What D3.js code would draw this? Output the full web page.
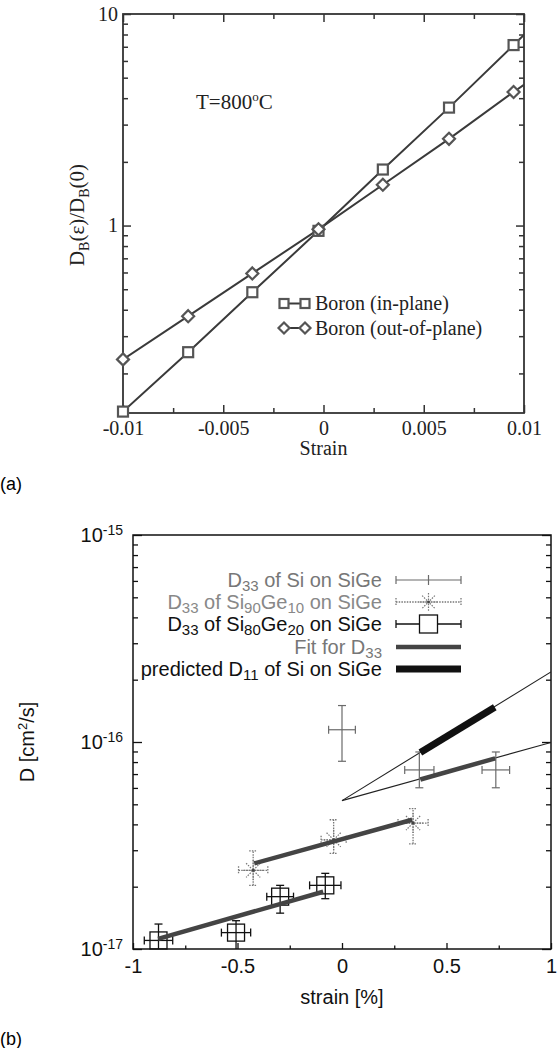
<!DOCTYPE html>
<html><head><meta charset="utf-8">
<script src="https://cdn.jsdelivr.net/npm/d3@7"></script>
<style>body{margin:0;background:#fff}svg{display:block}</style>
</head><body>
<svg id="c" width="558" height="1048"></svg>
<script>
// ================= DATA: panel (a) =================
const strainA = [-0.0100, -0.00675, -0.00355, -0.00025, 0.00296, 0.00626, 0.00948, 0.0128];
const boronInPlane = [0.132, 0.252, 0.484, 0.944, 1.84, 3.61, 7.13, 14.4];
const boronOutPlane = [0.233, 0.373, 0.594, 0.960, 1.56, 2.57, 4.28, 7.1];
const xTicksA = [-0.01, -0.005, 0, 0.005, 0.01];
const xTickLabelsA = ["-0.01", "-0.005", "0", "0.005", "0.01"];
const xMinorA = [-0.0075, -0.0025, 0.0025, 0.0075];
const yTicksA = [1, 10];
const yTickLabelsA = ["1", "10"];
const yMinorA = [0.2, 0.3, 0.4, 0.5, 0.6, 0.7, 0.8, 0.9, 2, 3, 4, 5, 6, 7, 8, 9];
const legendA = ["Boron (in-plane)", "Boron (out-of-plane)"];

// ================= DATA: panel (b) =================
const strainSi = [0.000, 0.370, 0.736];
const dSi = [1.146e-16, 7.33e-17, 7.33e-17];
const dSiLow = [8.07e-17, 6.01e-17, 6.01e-17];
const dSiHigh = [1.50e-16, 8.95e-17, 8.95e-17];
const strainErrSi = [0.064, 0.070, 0.066];

const strainSi90 = [-0.425, -0.040, 0.340];
const dSi90 = [2.40e-17, 3.37e-17, 4.06e-17];
const dSi90Low = [2.03e-17, 2.90e-17, 3.22e-17];
const dSi90High = [2.98e-17, 4.21e-17, 4.77e-17];
const strainErrSi90 = [0.070, 0.060, 0.072];

const strainSi80 = [-0.878, -0.507, -0.296, -0.080];
const dSi80 = [1.10e-17, 1.20e-17, 1.79e-17, 2.03e-17];
const dSi80Low = [9.0e-18, 9.5e-18, 1.49e-17, 1.75e-17];
const dSi80High = [1.32e-17, 1.37e-17, 2.03e-17, 2.32e-17];
const strainErrSi80 = [0.068, 0.070, 0.064, 0.075];

const fitStrainSi80 = [-0.88, -0.09];
const fitDSi80 = [1.12e-17, 1.89e-17];
const fitStrainSi90 = [-0.42, 0.336];
const fitDSi90 = [2.59e-17, 4.21e-17];
const fitStrainSi = [0.375, 0.733];
const fitDSi = [6.59e-17, 8.34e-17];
const predStrainD11 = [0.375, 0.731];
const predD11 = [8.89e-17, 1.47e-16];
const extrapStrain = [0, 1];
const extrapD11 = [5.21e-17, 2.18e-16];
const extrapD33 = [5.21e-17, 9.95e-17];

const xTicksB = [-1, -0.5, 0, 0.5, 1];
const xTickLabelsB = ["-1", "-0.5", "0", "0.5", "1"];
const xMinorB = [-0.75, -0.25, 0.25, 0.75];
const yTicksB = [1e-17, 1e-16, 1e-15];
const yTickExpB = ["-17", "-16", "-15"];
const yMinorB = [2e-17, 3e-17, 4e-17, 5e-17, 6e-17, 7e-17, 8e-17, 9e-17, 2e-16, 3e-16, 4e-16, 5e-16, 6e-16, 7e-16, 8e-16, 9e-16];

// ================= DRAWING =================
const SERIF = "'Liberation Serif','Times New Roman',serif";
const SANS = "'Liberation Sans',Arial,Helvetica,sans-serif";
const svg = d3.select("#c");

function tickAxis(g, axisFn, scale, values, size, labels, pad) {
  const ax = axisFn(scale).tickValues(values).tickSizeInner(-size).tickSizeOuter(0)
    .tickPadding(pad || 0).tickFormat((d, i) => labels ? labels[i] : "");
  g.call(ax);
  g.select(".domain").remove();
  return g;
}

// ---------- panel (a) ----------
const A = {l: 123, r: 524, t: 14, b: 413};
const xA = d3.scaleLinear().domain([-0.01, 0.01]).range([A.l, A.r]);
const yA = d3.scaleLog().domain([0.13, 10]).range([A.b, A.t]);
const gA = svg.append("g");
const axCol = "#333";

svg.append("defs").append("clipPath").attr("id", "clipA")
  .append("rect").attr("x", A.l).attr("y", A.t).attr("width", A.r - A.l).attr("height", A.b - A.t);

function axesA() {
  const bx = gA.append("g").attr("transform", `translate(0,${A.b})`);
  tickAxis(bx, d3.axisBottom, xA, xTicksA, 8, xTickLabelsA, 7.5);
  const bxm = gA.append("g").attr("transform", `translate(0,${A.b})`);
  tickAxis(bxm, d3.axisBottom, xA, xMinorA, 5);
  const tx = gA.append("g").attr("transform", `translate(0,${A.t})`);
  tickAxis(tx, d3.axisTop, xA, xTicksA, 8);
  const txm = gA.append("g").attr("transform", `translate(0,${A.t})`);
  tickAxis(txm, d3.axisTop, xA, xMinorA, 5);
  const ly = gA.append("g").attr("transform", `translate(${A.l},0)`);
  tickAxis(ly, d3.axisLeft, yA, yTicksA, 8, yTickLabelsA, 5);
  const lym = gA.append("g").attr("transform", `translate(${A.l},0)`);
  tickAxis(lym, d3.axisLeft, yA, yMinorA, 5);
  const ry = gA.append("g").attr("transform", `translate(${A.r},0)`);
  tickAxis(ry, d3.axisRight, yA, yTicksA, 8);
  const rym = gA.append("g").attr("transform", `translate(${A.r},0)`);
  tickAxis(rym, d3.axisRight, yA, yMinorA, 5);
  gA.selectAll(".tick line").attr("stroke", axCol).attr("stroke-width", 1.5);
  gA.selectAll(".tick text").attr("font-family", SERIF).attr("font-size", 20).attr("fill", "#222");
  gA.append("rect").attr("x", A.l).attr("y", A.t).attr("width", A.r - A.l).attr("height", A.b - A.t)
    .attr("fill", "none").attr("stroke", axCol).attr("stroke-width", 1.8);
}
axesA();

const lineA = d3.line().x(d => xA(d[0])).y(d => yA(d[1]));
const ptsIn = strainA.map((s, i) => [s, boronInPlane[i]]);
const ptsOut = strainA.map((s, i) => [s, boronOutPlane[i]]);
const lineCol = "#3a3a3a", markCol = "#555";
[ptsIn, ptsOut].forEach(p => {
  gA.append("path").attr("d", lineA(p)).attr("fill", "none").attr("stroke", lineCol)
    .attr("stroke-width", 2).attr("clip-path", "url(#clipA)");
});
function square(g, x, y, s) {
  g.append("rect").attr("x", x - s / 2).attr("y", y - s / 2).attr("width", s).attr("height", s)
    .attr("fill", "#fff").attr("stroke", markCol).attr("stroke-width", 2.2);
}
function diamond(g, x, y, s) {
  g.append("path").attr("d", `M${x},${y - s / 2}L${x + s / 2},${y}L${x},${y + s / 2}L${x - s / 2},${y}Z`)
    .attr("fill", "#fff").attr("stroke", markCol).attr("stroke-width", 2.2);
}
ptsIn.filter(d => d[0] <= 0.01).forEach(d => square(gA, xA(d[0]), yA(d[1]), 10));
ptsOut.filter(d => d[0] <= 0.01).forEach(d => diamond(gA, xA(d[0]), yA(d[1]), 12));

// T label
const tl = gA.append("text").attr("x", 196).attr("y", 109).attr("font-family", SERIF).attr("font-size", 21).attr("fill", "#222");
tl.append("tspan").text("T=800");
tl.append("tspan").attr("dy", -8).attr("font-size", 13).text("o");
tl.append("tspan").attr("dy", 8).text("C");

// legend (a)
const legYA = [303.5, 328];
legendA.forEach((t, i) => {
  const y = legYA[i];
  gA.append("line").attr("x1", 284).attr("x2", 305).attr("y1", y).attr("y2", y).attr("stroke", lineCol).attr("stroke-width", 2);
  if (i === 0) { square(gA, 284, y, 9); square(gA, 305, y, 9); }
  else { diamond(gA, 284, y, 11); diamond(gA, 305, y, 11); }
  gA.append("text").attr("x", 315).attr("y", y + 6.5).attr("font-family", SERIF).attr("font-size", 20).attr("fill", "#222").text(t);
});

// axis titles (a)
gA.append("text").attr("x", (A.l + A.r) / 2).attr("y", 455).attr("text-anchor", "middle")
  .attr("font-family", SERIF).attr("font-size", 20).attr("fill", "#222").text("Strain");
const yl = gA.append("text").attr("transform", "translate(84,215) rotate(-90)").attr("text-anchor", "middle")
  .attr("font-family", SERIF).attr("font-size", 21).attr("fill", "#222");
yl.append("tspan").text("D");
yl.append("tspan").attr("dy", 5).attr("font-size", 14).text("B");
yl.append("tspan").attr("dy", -5).text("(ε)/D");
yl.append("tspan").attr("dy", 5).attr("font-size", 14).text("B");
yl.append("tspan").attr("dy", -5).text("(0)");

svg.append("text").attr("x", 0).attr("y", 490).attr("font-family", SANS).attr("font-size", 18).text("(a)");

// ---------- panel (b) ----------
const B = {l: 133, r: 551, t: 535, b: 949};
const xB = d3.scaleLinear().domain([-1, 1]).range([B.l, B.r]);
const yB = d3.scaleLog().domain([1e-17, 1e-15]).range([B.b, B.t]);
const gB = svg.append("g");
svg.select("defs").append("clipPath").attr("id", "clipB")
  .append("rect").attr("x", B.l).attr("y", B.t).attr("width", B.r - B.l).attr("height", B.b - B.t);

function axesB() {
  const bx = gB.append("g").attr("transform", `translate(0,${B.b})`);
  tickAxis(bx, d3.axisBottom, xB, xTicksB, 6, xTickLabelsB, 10);
  const bxm = gB.append("g").attr("transform", `translate(0,${B.b})`);
  tickAxis(bxm, d3.axisBottom, xB, xMinorB, 3.5);
  const ly = gB.append("g").attr("transform", `translate(${B.l},0)`);
  tickAxis(ly, d3.axisLeft, yB, yTicksB, 9, yTickExpB, 10);
  ly.selectAll(".tick text").each(function (d, i) {
    const t = d3.select(this); t.text("");
    t.append("tspan").text("10");
    t.append("tspan").attr("dy", "-0.5em").attr("font-size", 14).text(yTickExpB[i]);
  });
  const lym = gB.append("g").attr("transform", `translate(${B.l},0)`);
  tickAxis(lym, d3.axisLeft, yB, yMinorB, 5);
  const ry = gB.append("g").attr("transform", `translate(${B.r},0)`);
  tickAxis(ry, d3.axisRight, yB, yTicksB, 9);
  const rym = gB.append("g").attr("transform", `translate(${B.r},0)`);
  tickAxis(rym, d3.axisRight, yB, yMinorB, 5);
  gB.selectAll(".tick line").attr("stroke", "#111").attr("stroke-width", 1.3);
  gB.selectAll(".tick text").attr("font-family", SANS).attr("font-size", 20).attr("fill", "#111");
  gB.append("rect").attr("x", B.l).attr("y", B.t).attr("width", B.r - B.l).attr("height", B.b - B.t)
    .attr("fill", "none").attr("stroke", "#111").attr("stroke-width", 1.5);
}
axesB();

const lineB = d3.line().x(d => xB(d[0])).y(d => yB(d[1]));
const zip = (a, b) => a.map((v, i) => [v, b[i]]);

// thin extrapolation lines
[extrapD11, extrapD33].forEach(arr => {
  gB.append("path").attr("d", lineB(zip(extrapStrain, arr))).attr("fill", "none")
    .attr("stroke", "#222").attr("stroke-width", 1.1).attr("clip-path", "url(#clipB)");
});

function errorBars(g, s, d, lo, hi, e, style) {
  const eg = g.append("g").attr("clip-path", "url(#clipB)").attr("stroke", style.color)
    .attr("stroke-width", style.width).attr("stroke-dasharray", style.dash || null).attr("fill", "none");
  s.forEach((sv, i) => {
    const x = xB(sv), y = yB(d[i]), y1 = yB(lo[i]), y2 = yB(hi[i]);
    const x1 = xB(sv - e[i]), x2 = xB(sv + e[i]);
    eg.append("line").attr("x1", x).attr("x2", x).attr("y1", y1).attr("y2", y2);
    eg.append("line").attr("x1", x - 4).attr("x2", x + 4).attr("y1", y1).attr("y2", y1);
    eg.append("line").attr("x1", x - 4).attr("x2", x + 4).attr("y1", y2).attr("y2", y2);
    eg.append("line").attr("x1", x1).attr("x2", x2).attr("y1", y).attr("y2", y);
    eg.append("line").attr("x1", x1).attr("x2", x1).attr("y1", y - 4).attr("y2", y + 4);
    eg.append("line").attr("x1", x2).attr("x2", x2).attr("y1", y - 4).attr("y2", y + 4);
  });
}
const styleSi = {color: "#6a6a6a", width: 1.2};
const styleSi90 = {color: "#777", width: 1.3, dash: "1.5,1.2"};
const styleSi80 = {color: "#111", width: 1.3};

function asterisk(g, x, y, r, col) {
  const a = g.append("g").attr("stroke", col).attr("stroke-width", 1.2).attr("stroke-dasharray", "1.5,1.2");
  for (let k = 0; k < 4; k++) {
    const ang = k * Math.PI / 4;
    a.append("line").attr("x1", x - r * Math.cos(ang)).attr("y1", y - r * Math.sin(ang))
      .attr("x2", x + r * Math.cos(ang)).attr("y2", y + r * Math.sin(ang));
  }
  g.append("circle").attr("cx", x).attr("cy", y).attr("r", 1.4).attr("fill", "#444");
}
function squareB(g, x, y, s) {
  g.append("rect").attr("x", x - s / 2).attr("y", y - s / 2).attr("width", s).attr("height", s)
    .attr("fill", "none").attr("stroke", "#111").attr("stroke-width", 1.3);
}

errorBars(gB, strainSi, dSi, dSiLow, dSiHigh, strainErrSi, styleSi);
errorBars(gB, strainSi90, dSi90, dSi90Low, dSi90High, strainErrSi90, styleSi90);
strainSi90.forEach((s, i) => asterisk(gB, xB(s), yB(dSi90[i]), 10, "#777"));
errorBars(gB, strainSi80, dSi80, dSi80Low, dSi80High, strainErrSi80, styleSi80);
strainSi80.forEach((s, i) => squareB(gB, xB(s), yB(dSi80[i]), 17));

// fit lines
[[fitStrainSi80, fitDSi80], [fitStrainSi90, fitDSi90], [fitStrainSi, fitDSi]].forEach(([s, d]) => {
  gB.append("path").attr("d", lineB(zip(s, d))).attr("fill", "none").attr("stroke", "#444").attr("stroke-width", 4.5);
});
gB.append("path").attr("d", lineB(zip(predStrainD11, predD11))).attr("fill", "none").attr("stroke", "#111").attr("stroke-width", 7);

// legend (b)
const legX1 = 396, legX2 = 461, legXm = 428.5, legTextX = 382;
const legY = [580, 602, 624, 647, 669];
function legText(y, parts, col, fitLen) {
  const t = gB.append("text").attr("transform", `translate(${legTextX},${y + 6.5})`).attr("text-anchor", "end")
    .attr("font-family", SANS).attr("font-size", 20).attr("fill", col);
  let sub = false;
  parts.forEach(p => {
    const isSub = p.startsWith("_");
    const ts = t.append("tspan").text(isSub ? p.slice(1) : p);
    if (isSub && !sub) ts.attr("dy", 4).attr("font-size", 15);
    else if (isSub) ts.attr("font-size", 15);
    else if (!isSub && sub) ts.attr("dy", -4);
    sub = isSub;
  });
  if (fitLen) {
    const w = t.node().getBBox().width;
    if (w > 0 && w < fitLen) {
      t.attr("transform", `translate(${legTextX},${y + 6.5}) scale(${fitLen / w},1)`);
    }
  }
}
legText(legY[0], ["D", "_33", " of Si on SiGe"], "#777");
legText(legY[1], ["D", "_33", " of Si", "_90", "Ge", "_10", " on SiGe"], "#888");
legText(legY[2], ["D", "_33", " of Si", "_80", "Ge", "_20", " on SiGe"], "#111");
legText(legY[3], ["Fit for D", "_33"], "#777");
legText(legY[4], ["predicted D", "_11", " of Si on SiGe"], "#111", 241);

function legErr(y, style) {
  const g = gB.append("g").attr("stroke", style.color).attr("stroke-width", style.width).attr("stroke-dasharray", style.dash || null);
  g.append("line").attr("x1", legX1).attr("x2", legX2).attr("y1", y).attr("y2", y);
  g.append("line").attr("x1", legX1).attr("x2", legX1).attr("y1", y - 4).attr("y2", y + 4);
  g.append("line").attr("x1", legX2).attr("x2", legX2).attr("y1", y - 4).attr("y2", y + 4);
  return g;
}
legErr(legY[0], styleSi).append("line").attr("x1", legXm).attr("x2", legXm).attr("y1", legY[0] - 5).attr("y2", legY[0] + 5);
legErr(legY[1], styleSi90);
asterisk(gB, legXm, legY[1], 9, "#777");
legErr(legY[2], styleSi80);
gB.append("rect").attr("x", legXm - 9).attr("y", legY[2] - 9).attr("width", 18).attr("height", 18)
  .attr("fill", "#fff").attr("stroke", "#111").attr("stroke-width", 1.3);
gB.append("line").attr("x1", legX1).attr("x2", legX2).attr("y1", legY[3]).attr("y2", legY[3]).attr("stroke", "#444").attr("stroke-width", 4.5);
gB.append("line").attr("x1", legX1).attr("x2", legX2).attr("y1", legY[4]).attr("y2", legY[4]).attr("stroke", "#111").attr("stroke-width", 7);

// axis titles (b)
gB.append("text").attr("x", 342).attr("y", 1004).attr("text-anchor", "middle")
  .attr("font-family", SANS).attr("font-size", 20).attr("fill", "#111").text("strain [%]");
const ylb = gB.append("text").attr("transform", "translate(34,742) rotate(-90)").attr("text-anchor", "middle")
  .attr("font-family", SANS).attr("font-size", 20).attr("fill", "#111");
ylb.append("tspan").text("D [cm");
ylb.append("tspan").attr("dy", -7).attr("font-size", 13).text("2");
ylb.append("tspan").attr("dy", 7).text("/s]");

svg.append("text").attr("x", 0).attr("y", 1045).attr("font-family", SANS).attr("font-size", 18).text("(b)");
</script>
</body></html>
